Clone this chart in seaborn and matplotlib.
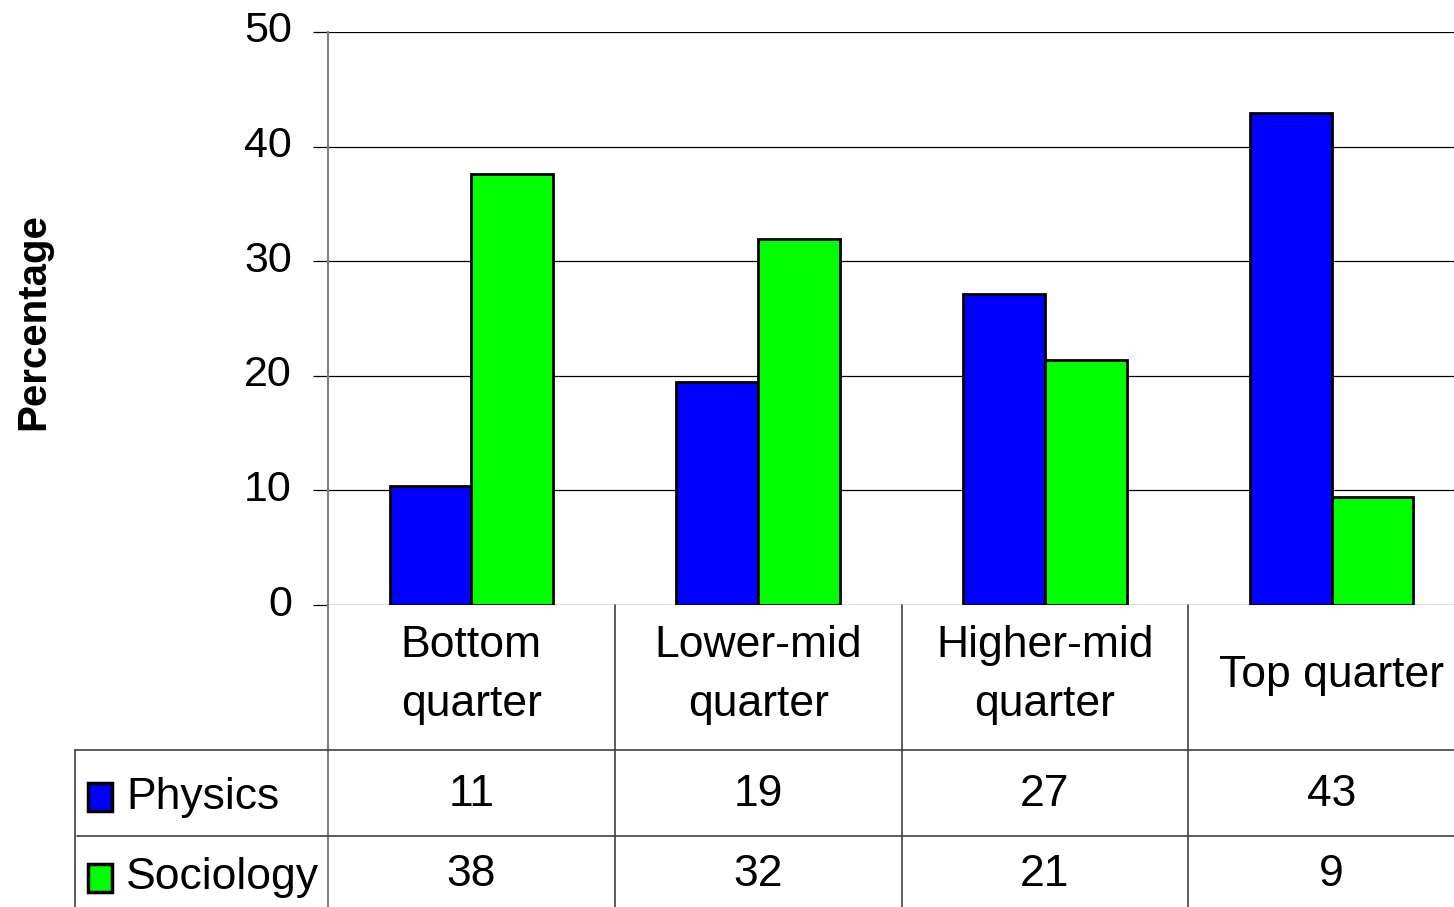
import pandas as pd
import matplotlib.pyplot as plt
import matplotlib.transforms as mtransforms
from matplotlib.patches import Rectangle
from matplotlib.lines import Line2D
import seaborn as sns

quarters = ['Bottom\nquarter', 'Lower-mid\nquarter', 'Higher-mid\nquarter', 'Top quarter']
subjects = ['Physics', 'Sociology']
physics = [10.4, 19.5, 27.1, 42.9]
sociology = [37.6, 31.9, 21.4, 9.4]
physics_table = ['11', '19', '27', '43']
sociology_table = ['38', '32', '21', '9']
colors = ['#0000ff', '#00ff00']

df = pd.DataFrame({
    'Quarter': quarters * 2,
    'Subject': ['Physics'] * 4 + ['Sociology'] * 4,
    'Percentage': physics + sociology,
})

sns.set_style('white')
plt.rcParams['font.family'] = ['Liberation Sans', 'DejaVu Sans']
plt.rcParams['text.color'] = 'black'
plt.rcParams['ytick.labelcolor'] = 'black'

W, H = 1454, 907
fig = plt.figure(figsize=(W / 100, H / 100), dpi=100)
ax = fig.add_axes([328 / W, 302 / H, 1147 / W, 573 / H])

sns.barplot(data=df, x='Quarter', y='Percentage', hue='Subject', hue_order=subjects,
            order=quarters, palette=colors, saturation=1, width=0.57,
            edgecolor='black', linewidth=2, legend=False, ax=ax)

ax.set_xlim(-0.5, 3.5)
ax.set_ylim(0, 50)
ax.set_yticks(range(0, 51, 10))
ax.set_axisbelow(True)
ax.yaxis.grid(True, color='black', linewidth=0.9)
ax.tick_params(axis='y', labelsize=31, length=11, width=0.9, color='black', pad=15, left=True)
ax.tick_params(axis='x', bottom=False, labelbottom=False)
ax.set_xlabel('')
ax.set_ylabel('')
for s in ['top', 'right', 'bottom']:
    ax.spines[s].set_visible(False)
ax.spines['left'].set_color('#808080')
ax.spines['left'].set_linewidth(1.5)
shift = mtransforms.ScaledTranslation(0, 5 / 100, fig.dpi_scale_trans)
for lab in ax.get_yticklabels():
    lab.set_transform(lab.get_transform() + shift)

fig.text(33 / W, 1 - 322 / H, 'Percentage', rotation=90, fontsize=29, fontweight='bold',
         ha='center', va='center')

# data table below the plot
tr = mtransforms.blended_transform_factory(ax.transData, ax.transAxes)
line_kw = dict(color='#404040', linewidth=1.2)
for xb in [0.5, 1.5, 2.5]:
    ax.add_line(Line2D([xb, xb], [0, -0.6], transform=tr, clip_on=False, **line_kw))
fig.add_artist(Line2D([328 / W, 328 / W], [0, 302 / H], color='#808080', linewidth=1.5))
fig.add_artist(Line2D([75 / W, 75 / W], [0, 1 - 750 / H], **line_kw))
fig.add_artist(Line2D([75 / W, 1], [1 - 750 / H, 1 - 750 / H], **line_kw))
fig.add_artist(Line2D([77 / W, 1], [1 - 836 / H, 1 - 836 / H], **line_kw))

for i, q in enumerate(quarters):
    ax.text(i, (605 - 675) / 573, q, transform=tr, ha='center', va='center',
            fontsize=32, linespacing=1.55)
    ax.text(i, (605 - 795) / 573, physics_table[i], transform=tr, ha='center', va='center',
            fontsize=32)
    ax.text(i, (605 - 875) / 573, sociology_table[i], transform=tr, ha='center', va='center',
            fontsize=32)

for name, col, yc in [('Physics', colors[0], 797), ('Sociology', colors[1], 878)]:
    fig.add_artist(Rectangle((88 / W, 1 - (yc + 14) / H), 24 / W, 28 / H,
                             facecolor=col, edgecolor='black', linewidth=2.5))
    fig.text(126 / W, 1 - yc / H, name, fontsize=32, ha='left', va='center')

plt.savefig('out.png', dpi=100)
